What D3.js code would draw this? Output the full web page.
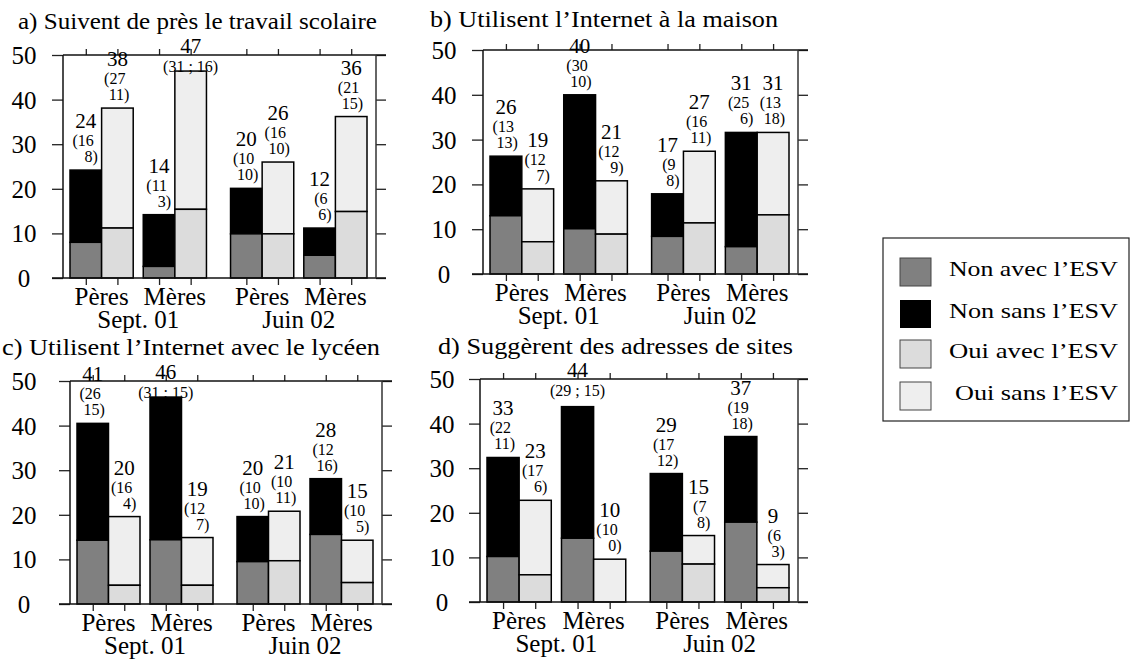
<!DOCTYPE html>
<html><head><meta charset="utf-8">
<script src="https://cdn.jsdelivr.net/npm/d3@7"></script>
<style>
body{margin:0;background:#fff}
svg{display:block}
</style>
</head><body>
<svg id="chart" width="1131" height="662"></svg>
<script>
// ---------- DATA ----------
const sessions = ["Sept. 01", "Juin 02"];
const parents = ["Pères", "Mères"];
const answers = ["Non", "Oui"];
const seriesNames = ["Non avec l’ESV", "Non sans l’ESV", "Oui avec l’ESV", "Oui sans l’ESV"];
const yTicks = [0, 10, 20, 30, 40, 50];
const panelTitles = [
  "a) Suivent de près le travail scolaire",
  "b) Utilisent l’Internet à la maison",
  "c) Utilisent l’Internet avec le lycéen",
  "d) Suggèrent des adresses de sites"
];
// bar order: Pères Sept Non, Pères Sept Oui, Mères Sept Non, Mères Sept Oui,
//            Pères Juin Non, Pères Juin Oui, Mères Juin Non, Mères Juin Oui
// panel a
const avecA  = [8.0, 11.2, 2.6, 15.4, 9.9, 9.9, 5.1, 14.9];
const totalA = [24.2, 38.1, 14.2, 46.4, 20.1, 26.0, 11.2, 36.2];
const nA     = [24, 38, 14, 47, 20, 26, 12, 36];
const nSansA = [16, 27, 11, 31, 10, 16, 6, 21];
const nAvecA = [8, 11, 3, 16, 10, 10, 6, 15];
// panel b
const avecB  = [13.0, 7.2, 10.1, 8.9, 8.4, 11.4, 6.1, 13.2];
const totalB = [26.3, 19.0, 40.0, 20.8, 17.9, 27.4, 31.6, 31.6];
const nB     = [26, 19, 40, 21, 17, 27, 31, 31];
const nSansB = [13, 12, 30, 12, 9, 16, 25, 13];
const nAvecB = [13, 7, 10, 9, 8, 11, 6, 18];
// panel c
const avecC  = [14.3, 4.2, 14.4, 4.2, 9.5, 9.7, 15.6, 4.8];
const totalC = [40.5, 19.6, 46.4, 14.9, 19.6, 20.8, 28.1, 14.3];
const nC     = [41, 20, 46, 19, 20, 21, 28, 15];
const nSansC = [26, 16, 31, 12, 10, 10, 12, 10];
const nAvecC = [15, 4, 15, 7, 10, 11, 16, 5];
// panel d
const avecD  = [10.2, 6.1, 14.3, 0, 11.4, 8.5, 17.9, 3.2];
const totalD = [32.4, 22.8, 43.8, 9.6, 28.8, 14.9, 37.1, 8.4];
const nD     = [33, 23, 44, 10, 29, 15, 37, 9];
const nSansD = [22, 17, 29, 10, 17, 7, 19, 6];
const nAvecD = [11, 6, 15, 0, 12, 8, 18, 3];

// ---------- LAYOUT ----------
const FONT = "'Liberation Serif', Tinos, 'Times New Roman', Times, serif";
const colors = {"Non": ["#808080", "#000000"], "Oui": ["#dcdcdc", "#eeeeee"]};
const legendColors = ["#808080", "#000000", "#dcdcdc", "#eeeeee"];
const panels = [
  {title: panelTitles[0], avec: avecA, total: totalA, n: nA, s: nSansA, a: nAvecA,
   L: 63, R: 376, T: 55, B: 278, tx: 18, ty: 29, tw: 359, lab: 39},
  {title: panelTitles[1], avec: avecB, total: totalB, n: nB, s: nSansB, a: nAvecB,
   L: 483, R: 798, T: 50, B: 274, tx: 430, ty: 27, tw: 348, lab: 39},
  {title: panelTitles[2], avec: avecC, total: totalC, n: nC, s: nSansC, a: nAvecC,
   L: 70, R: 382, T: 381, B: 604, tx: 2, ty: 355, tw: 378, lab: 46},
  {title: panelTitles[3], avec: avecD, total: totalD, n: nD, s: nSansD, a: nAvecD,
   L: 480, R: 798, T: 379, B: 602, tx: 438, ty: 354, tw: 355, lab: 38}
];

const svg = d3.select("#chart").attr("font-family", FONT);

panels.forEach(p => {
  const g = svg.append("g").attr("font-family", FONT);
  const y = d3.scaleLinear().domain([0, 50]).range([p.B, p.T]);
  const xs = d3.scaleBand().domain(sessions).range([p.L + 7, p.R - 9]).paddingInner(0.15);
  const xp = d3.scaleBand().domain(parents).range([0, xs.bandwidth()]).paddingInner(0.137);
  const xa = d3.scaleBand().domain(answers).range([0, xp.bandwidth()]);

  const bars = p.total.map((t, i) => {
    const ses = sessions[Math.floor(i / 4)];
    const par = parents[Math.floor(i / 2) % 2];
    const ans = answers[i % 2];
    const x = xs(ses) + xp(par) + xa(ans);
    return {i, ses, par, ans, x, w: xa.bandwidth(), total: t, avec: p.avec[i],
            n: p.n[i], s: p.s[i], a: p.a[i]};
  });

  // title
  g.append("text").attr("x", p.tx).attr("y", p.ty)
    .attr("font-size", 24).attr("textLength", p.tw).attr("lengthAdjust", "spacingAndGlyphs")
    .text(p.title);

  // bars: top segment (sans) then bottom segment (avec)
  const bg = g.append("g");
  bars.forEach(b => {
    bg.append("rect").attr("x", b.x).attr("width", b.w)
      .attr("y", y(b.total)).attr("height", y(b.avec) - y(b.total))
      .attr("fill", colors[b.ans][1]).attr("stroke", "#000").attr("stroke-width", 1.5);
    if (b.avec > 0) {
      bg.append("rect").attr("x", b.x).attr("width", b.w)
        .attr("y", y(b.avec)).attr("height", y(0) - y(b.avec))
        .attr("fill", colors[b.ans][0]).attr("stroke", "#000").attr("stroke-width", 1.5);
    }
  });

  // axes
  const centers = bars.map(b => b.x + b.w / 2);
  const xId = d3.scaleLinear().domain([0, 1131]).range([0, 1131]);
  const ax = g.append("g");
  ax.append("g").attr("transform", `translate(${p.L},0)`)
    .call(d3.axisLeft(y).tickValues(yTicks).tickSize(11).tickSizeOuter(0).tickFormat(""));
  ax.append("g").attr("transform", `translate(${p.R},0)`)
    .call(d3.axisRight(y).tickValues(yTicks).tickSize(10).tickSizeOuter(0).tickFormat(""));
  ax.append("g").attr("transform", `translate(0,${p.B})`)
    .call(d3.axisBottom(xId).tickValues(centers).tickSize(7).tickSizeOuter(0).tickFormat(""));
  ax.append("g").attr("transform", `translate(0,${p.T})`)
    .call(d3.axisTop(xId).tickValues(centers).tickSize(6).tickSizeOuter(0).tickFormat(""));
  ax.selectAll(".domain").remove();
  ax.selectAll(".tick line").attr("stroke", "#222").attr("stroke-width", 1.3);
  // frame
  ax.append("line").attr("x1", p.L - 11).attr("x2", p.R + 10).attr("y1", p.B).attr("y2", p.B)
    .attr("stroke", "#111").attr("stroke-width", 1.5);
  ax.append("line").attr("x1", p.L).attr("x2", p.R + 10).attr("y1", p.T).attr("y2", p.T)
    .attr("stroke", "#111").attr("stroke-width", 1.5);
  ax.append("line").attr("x1", p.L).attr("x2", p.L).attr("y1", p.T).attr("y2", p.B)
    .attr("stroke", "#111").attr("stroke-width", 1.5);
  ax.append("line").attr("x1", p.R).attr("x2", p.R).attr("y1", p.T).attr("y2", p.B)
    .attr("stroke", "#333").attr("stroke-width", 1.5);

  // y tick labels
  g.append("g").selectAll("text").data(yTicks).join("text")
    .attr("x", p.L - p.lab).attr("y", d => y(d)).attr("dy", "0.36em")
    .attr("text-anchor", "middle").attr("font-size", 25).text(d => d);

  // x category labels
  sessions.forEach(ses => {
    parents.forEach(par => {
      g.append("text")
        .attr("x", xs(ses) + xp(par) + xp.bandwidth() / 2).attr("y", p.B + 27)
        .attr("text-anchor", "middle").attr("font-size", 25).text(par);
    });
    g.append("text")
      .attr("x", xs(ses) + xs.bandwidth() / 2).attr("y", p.B + 50)
      .attr("text-anchor", "middle").attr("font-size", 25).text(ses);
  });

  // value labels
  const lg = g.append("g");
  bars.forEach(b => {
    const cx = b.x + b.w / 2;
    const yTop = y(b.total);
    if (yTop - 42 < p.T - 10) {
      lg.append("text").attr("x", cx).attr("y", p.T - 2).attr("text-anchor", "middle")
        .attr("font-size", 21).text(b.n);
      lg.append("text").attr("x", cx).attr("y", p.T + 17).attr("text-anchor", "middle")
        .attr("font-size", 16).text(`(${b.s} ; ${b.a})`);
    } else {
      lg.append("text").attr("x", cx).attr("y", yTop - 42).attr("text-anchor", "middle")
        .attr("font-size", 21).text(b.n);
      lg.append("text").attr("x", cx + 8).attr("y", yTop - 24).attr("text-anchor", "end")
        .attr("font-size", 16).text(`(${b.s}`);
      lg.append("text").attr("x", cx + 12).attr("y", yTop - 8).attr("text-anchor", "end")
        .attr("font-size", 16).text(`${b.a})`);
    }
  });
});

// ---------- LEGEND ----------
const leg = svg.append("g").attr("font-family", FONT);
leg.append("rect").attr("x", 883).attr("y", 238).attr("width", 246).attr("height", 183)
  .attr("fill", "none").attr("stroke", "#222").attr("stroke-width", 1.2);
const rowY = [258, 300, 340, 382];
const rowTextX = [949, 949, 949, 955];
seriesNames.forEach((name, i) => {
  leg.append("rect").attr("x", 900).attr("y", rowY[i]).attr("width", 31).attr("height", 28)
    .attr("fill", legendColors[i]).attr("stroke", i === 1 ? "none" : "#444").attr("stroke-width", 1);
  leg.append("text").attr("x", rowTextX[i]).attr("y", rowY[i] + 18)
    .attr("font-size", 22).attr("textLength", 1118 - rowTextX[i]).attr("lengthAdjust", "spacingAndGlyphs")
    .text(name);
});
</script>
</body></html>
